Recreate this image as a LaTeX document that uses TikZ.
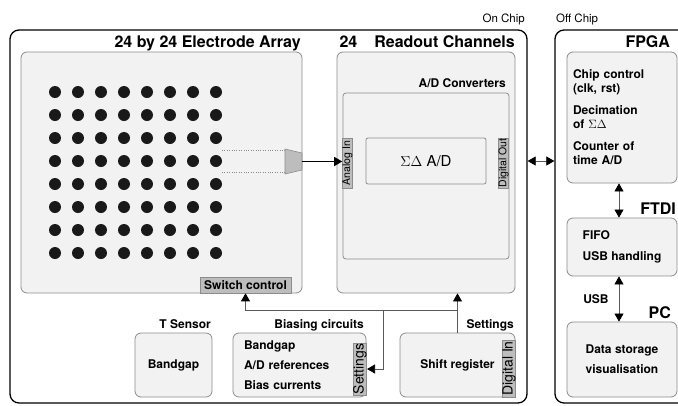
\documentclass[tikz,border=0pt]{standalone}
\usepackage{fontspec}
\setmainfont{TeX Gyre Heros}
\usetikzlibrary{arrows.meta, positioning, calc}
\definecolor{chipF}{HTML}{F2F2F2}
\definecolor{chipS}{HTML}{8C8C8C}
\definecolor{tabF}{HTML}{BDBDBD}
\definecolor{wireC}{HTML}{5A5A5A}
\tikzset{
  >={Triangle[length=8pt, width=9pt, color=black]},
  frame/.style={draw=black, line width=1.3pt, rounded corners=9pt},
  block/.style={draw=chipS, fill=chipF, line width=0.8pt, rounded corners=6pt,
    inner sep=0pt, font=\fontsize{12}{14}\selectfont\bfseries},
  tab/.style={draw=chipS, fill=tabF, line width=0.6pt, inner sep=0pt,
    font=\fontsize{10.5}{12}\selectfont},
  bigtab/.style={tab, font=\fontsize{14}{16}\selectfont},
  title/.style={font=\fontsize{16}{19}\selectfont\bfseries, inner sep=0pt},
  blabel/.style={font=\fontsize{12}{14}\selectfont\bfseries, inner sep=0pt},
  chiplbl/.style={font=\fontsize{11.5}{13}\selectfont, inner sep=0pt},
  elec/.style={circle, fill=black!90, minimum size=12pt, inner sep=0pt},
  wire/.style={draw=wireC, line width=0.7pt},
  sig/.style={->, draw=black, line width=1.4pt},
}

\begin{document}
\begin{tikzpicture}[x=1pt, y=-1pt]
  \useasboundingbox (0,0) rectangle (678,405);
  \clip (0,0) rectangle (678,405);

  % ---- On chip / off chip frames ------------------------------------------
  \node[frame, minimum width=517pt, minimum height=373pt] (onchip)  at (268.5,216.5) {};
  \node[frame, minimum width=135pt, minimum height=373pt] (offchip) at (622.5,216.5) {};
  \node[chiplbl, anchor=base east] (onlbl)  at (525,22) {On Chip};
  \node[chiplbl, anchor=base west] (offlbl) at (556,22) {Off Chip};

  % ---- Electrode array ------------------------------------------------------
  \node[title, anchor=base east] (arrtitle) at (301,47) {24 by 24 Electrode Array};
  \node[block, minimum width=281pt, minimum height=241pt] (arraybox) at (161.5,172.5) {};
  \foreach \r in {0,...,7}
    \foreach \c in {0,...,7}
      \node[elec] (e\r\c) at (55+23*\c, 92+23*\r) {};
  \draw[dotted, draw=chipS] (222,150) -- (285,150);
  \draw[dotted, draw=chipS] (222,172) -- (285,172);
  % multiplexer
  \coordinate (mux) at (293.5,161.5);
  \draw[fill=tabF, draw=chipS, line width=0.6pt]
    ($(mux)+(-8.5,-12.5)$) -- ($(mux)+(8.5,-8.5)$) -- ($(mux)+(8.5,8.5)$) -- ($(mux)+(-8.5,12.5)$) -- cycle;
  \coordinate (muxout) at ($(mux)+(8.5,0)$);
  \node[tab, font=\fontsize{12}{14}\selectfont\bfseries, minimum width=91pt, minimum height=16pt]
    (switch) at (245.5,285) {Switch control};

  % ---- Readout channels -----------------------------------------------------
  \node[title, anchor=base east] (rdtitle) at (515,47) {24\hspace{17pt}Readout Channels};
  \node[block, minimum width=178pt, minimum height=241pt] (readbox) at (426,172.5) {};
  \node[blabel, anchor=base east] (adclbl) at (506,87) {A/D Converters};
  \node[block, rounded corners=3pt, minimum width=166pt, minimum height=166pt] (adcbox) at (426,176) {};
  \node[block, rounded corners=2pt, font=\fontsize{15}{17}\selectfont,
    minimum width=120pt, minimum height=46pt] (sdbox) at (426,161) {$\Sigma\Delta$ A/D};
  \node[tab, rotate=90, minimum width=50pt, minimum height=9pt] (analog)  at (347.5,163) {Analog In};
  \node[tab, rotate=90, minimum width=50pt, minimum height=10pt] (digout) at (503.5,163) {Digital Out};

  \draw[sig] (muxout) -- (muxout -| analog.north);
  \draw[<->, wire] (onchip.east |- sdbox.center) -- (offchip.west |- sdbox.center);

  % ---- Support circuits -----------------------------------------------------
  \node[blabel, anchor=base east] (tslbl) at (211,328) {T Sensor};
  \node[block, minimum width=77pt, minimum height=64pt] (tsensor) at (173.5,365) {Bandgap};

  \node[blabel, anchor=base east] (biaslbl) at (364,328) {Biasing circuits};
  \node[block, minimum width=133pt, minimum height=64pt, text width=111pt, align=left]
    (biasbox) at (299.5,365) {Bandgap\\[6pt]A/D references\\[6pt]Bias currents};
  \node[bigtab, rotate=90, minimum width=52pt, minimum height=12pt] (settings) at (360,369) {Settings};

  \node[blabel, anchor=base east] (setlbl) at (514,328) {Settings};
  \node[block, minimum width=115pt, minimum height=64pt] (shift) at (457.5,365) {Shift register};
  \node[bigtab, rotate=90, minimum width=57pt, minimum height=12pt] (digin) at (509,368.5) {Digital In};

  \draw[wire, ->] (shift.north) -- (shift.north |- readbox.south);
  \coordinate (busR) at ($(shift.north)+(0,-22)$);
  \coordinate (busB) at (383,311);
  \draw[wire, ->] (busR) -| (switch.south);
  \draw[wire, ->] (busB) |- (settings.south);

  % ---- Off chip: FPGA, FTDI, PC ---------------------------------------------
  \node[title, anchor=base east] (fpgalbl) at (670,47) {FPGA};
  \node[block, minimum width=110pt, minimum height=131pt, text width=98pt, align=left]
    (fpga) at (622,117.5) {Chip control\\(clk, rst)\\[8pt]Decimation\\of $\Sigma\Delta$\\[8pt]Counter of\\time A/D};

  \node[title, anchor=base east] (ftdilbl) at (676,214) {FTDI};
  \node[block, minimum width=110pt, minimum height=58pt, align=left]
    (ftdi) at (622,247) {FIFO\\[7pt]USB handling};

  \node[title, anchor=base east] (pclbl) at (671,318) {PC};
  \node[block, minimum width=110pt, minimum height=75pt, align=left]
    (pc) at (622,359.5) {Data storage\\[6pt]visualisation};

  \draw[<->, wire] ([xshift=-3pt]fpga.south) -- ([xshift=-3pt]ftdi.north);
  \draw[<->, wire] ([xshift=-3pt]ftdi.south) -- node[blabel, left=10pt] (usb) {USB} ([xshift=-3pt]pc.north);

\end{tikzpicture}
\end{document}
